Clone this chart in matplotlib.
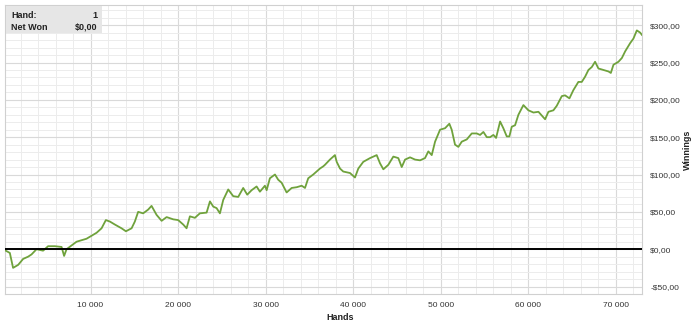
import numpy as np
import matplotlib
matplotlib.use("Agg")
import matplotlib.pyplot as plt
from matplotlib.ticker import MultipleLocator, FuncFormatter
from matplotlib.patches import Rectangle

plt.rcParams['font.family'] = ['Liberation Sans', 'DejaVu Sans']

# cumulative winnings (hand number, dollars)
hands = [1, 780, 1150, 1730, 2300, 2870, 3260, 3830, 4580, 5150, 5920, 6690, 6980,
         7260, 7830, 8400, 8970, 9540, 10120, 10690, 11260, 11750, 12210, 12780,
         13540, 14040, 14690, 15060, 15440, 16010, 16580, 16970, 17540, 18120,
         18690, 19440, 20010, 20590, 20970, 21350, 21920, 22490, 23260, 23640,
         24020, 24400, 24780, 25160, 25730, 26300, 26870, 27440, 27900, 28400,
         28970, 29350, 29920, 30120, 30490, 31070, 31440, 31830, 32400, 32980,
         33550, 34120, 34500, 34870, 35440, 36020, 36210, 36590, 36780, 37350,
         37920, 38120, 38500, 38870, 39640, 40210, 40590, 41160, 41930, 42690,
         43070, 43450, 44020, 44590, 45160, 45550, 45930, 46500, 47070, 47650,
         48210, 48590, 48980, 49360, 49930, 50500, 50990, 51260, 51640, 52020,
         52410, 52980, 53550, 54120, 54500, 54880, 55270, 55640, 56020, 56330,
         56790, 57160, 57550, 57850, 58120, 58500, 58880, 59450, 60020, 60600,
         61170, 61930, 62310, 62880, 63260, 63840, 64210, 64710, 65160, 65730,
         66120, 66500, 66880, 67270, 67640, 68020, 68590, 69170, 69440, 69740,
         70310, 70700, 71080, 71650, 72020, 72410, 72790, 72990]
winnings = [0, -5, -25, -21, -13, -10, -7, 0, -2, 4, 4, 3, -9,
            0, 5, 10, 12, 14, 18, 22, 28, 39, 37, 33,
            28, 24, 28, 37, 50, 48, 53, 58, 46, 38,
            43, 40, 39, 33, 28, 44, 42, 48, 49, 64,
            57, 55, 48, 66, 80, 71, 70, 82, 73, 79,
            84, 77, 85, 79, 95, 100, 93, 89, 76, 82,
            83, 85, 82, 95, 100, 106, 108, 111, 113, 120,
            126, 117, 108, 104, 102, 96, 108, 117, 122, 126,
            115, 107, 113, 124, 122, 110, 120, 123, 120, 119,
            122, 131, 126, 144, 160, 162, 168, 160, 140, 137,
            144, 147, 155, 155, 153, 157, 150, 150, 153, 149,
            171, 162, 151, 151, 164, 166, 180, 193, 186, 183,
            184, 174, 184, 186, 192, 205, 206, 202, 213, 224,
            224, 231, 240, 244, 251, 242, 240, 238, 236, 247,
            251, 256, 265, 276, 282, 293, 290, 287]

W, H = 700, 330
fig = plt.figure(figsize=(W / 100, H / 100), dpi=100)
l, r, t, b = 4.5, 642, 5, 294
ax = fig.add_axes([l / W, 1 - b / H, (r - l) / W, (b - t) / H])

ax.plot(hands, winnings, color='#6fa23c', lw=1.3, zorder=3)
ax.axhline(0, color='black', lw=1.4, zorder=4)

ax.set_xlim(170, 73000)
ax.set_ylim(-60, 327)

ax.xaxis.set_major_locator(MultipleLocator(10000))
ax.xaxis.set_minor_locator(MultipleLocator(2000))
ax.yaxis.set_major_locator(MultipleLocator(50))
ax.yaxis.set_minor_locator(MultipleLocator(10))
ax.grid(which='major', color='#d9d9d9', lw=0.8)
ax.grid(which='minor', color='#ececec', lw=0.7)
ax.set_axisbelow(True)

ax.xaxis.set_major_formatter(FuncFormatter(
    lambda v, p: '' if v <= 0 else f'{int(v):,}'.replace(',', ' ')))
ax.yaxis.set_major_formatter(FuncFormatter(
    lambda v, p: ('-' if v < 0 else '') + f'${abs(v):.2f}'.replace('.', ',')))

ax.yaxis.tick_right()
ax.tick_params(which='both', length=0, labelsize=6, colors='#333333')
ax.tick_params(axis='y', pad=6)
ax.tick_params(axis='x', pad=6)

for s in ax.spines.values():
    s.set_color('#d0d0d0')
    s.set_linewidth(0.8)

fig.text(687 / W, 1 - 150 / H, 'Winnings', rotation=90, ha='center', va='center',
         fontsize=6.5, fontweight='bold', color='#222222')
fig.text(340 / W, 1 - 317 / H, 'Hands', ha='center', va='center',
         fontsize=6.5, fontweight='bold', color='#222222')

# info box top left
fig.add_artist(Rectangle((6 / W, 1 - 33 / H), 96 / W, 27 / H,
                         transform=fig.transFigure, facecolor='#e6e6e6',
                         edgecolor='none', zorder=5))
fig.text(11 / W, 1 - 15 / H, 'Hand:', ha='left', va='center', fontsize=6.5,
         fontweight='bold', color='#222222', zorder=6)
fig.text(97.5 / W, 1 - 15 / H, '1', ha='right', va='center', fontsize=6.5,
         fontweight='bold', color='#222222', zorder=6)
fig.text(11 / W, 1 - 27 / H, 'Net Won', ha='left', va='center', fontsize=6.5,
         fontweight='bold', color='#222222', zorder=6)
fig.text(97.5 / W, 1 - 27 / H, '$0,00', ha='right', va='center', fontsize=6.5,
         fontweight='bold', color='#222222', zorder=6)

fig.savefig('out.png', dpi=100)
